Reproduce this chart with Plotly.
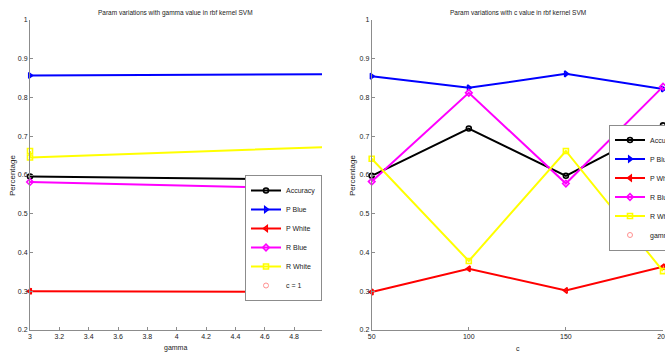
import plotly.graph_objects as go

# ---------------- data ----------------
series_names = ["Accuracy", "P Blue", "P White", "R Blue", "R White"]

# left panel: gamma variation (c = 1)
gamma_x = [3, 5]
gamma_acc = [0.596, 0.588]
gamma_pblue = [0.857, 0.860]
gamma_pwhite = [0.300, 0.298]
gamma_rblue = [0.582, 0.564]
gamma_rwhite_x = [3, 3, 5]
gamma_rwhite = [0.662, 0.645, 0.672]

# right panel: c variation
c_x = [50, 100, 150, 200]
c_acc = [0.598, 0.720, 0.598, 0.728]
c_pblue = [0.855, 0.825, 0.861, 0.822]
c_pwhite = [0.298, 0.358, 0.302, 0.363]
c_rblue = [0.583, 0.812, 0.578, 0.828]
c_rwhite = [0.642, 0.378, 0.662, 0.352]

y_ticks = [0.2, 0.3, 0.4, 0.5, 0.6, 0.7, 0.8, 0.9, 1.0]
y_ticklabels = ["0.2", "0.3", "0.4", "0.5", "0.6", "0.7", "0.8", "0.9", "1"]
gamma_ticks = [3, 3.2, 3.4, 3.6, 3.8, 4, 4.2, 4.4, 4.6, 4.8]
gamma_ticklabels = ["3", "3.2", "3.4", "3.6", "3.8", "4", "4.2", "4.4", "4.6", "4.8"]
c_ticks = [50, 100, 150, 200]

# ---------------- style ----------------
FONT = "Liberation Sans, Arial, sans-serif"
TXT = "#222222"
colors = ["#000000", "#0000ff", "#ff0000", "#ff00ff", "#ffff00"]
symbols = ["circle-open", "triangle-right-open", "triangle-left-open", "diamond-open", "square-open"]

W, H = 665, 353
T, B = 20, 23
PH = H - T - B


def px(x):
    return x / W


def py(y):
    return (H - B - y) / PH


fig = go.Figure()

left_sets = [
    (gamma_x, gamma_acc),
    (gamma_x, gamma_pblue),
    (gamma_x, gamma_pwhite),
    (gamma_x, gamma_rblue),
    (gamma_rwhite_x, gamma_rwhite),
]
right_sets = [
    (c_x, c_acc),
    (c_x, c_pblue),
    (c_x, c_pwhite),
    (c_x, c_rblue),
    (c_x, c_rwhite),
]


def marker(i):
    return dict(symbol=symbols[i], size=5, color=colors[i], line=dict(width=1.6, color=colors[i]))


for i, (xs, ys) in enumerate(left_sets):
    fig.add_trace(go.Scatter(
        x=xs, y=ys, name=series_names[i], mode="lines+markers",
        line=dict(color=colors[i], width=2), marker=marker(i),
        cliponaxis=False, xaxis="x", yaxis="y", legend="legend",
    ))
fig.add_trace(go.Scatter(
    x=[None], y=[None], name="c = 1", mode="markers",
    marker=dict(symbol="circle-open", size=5, color="#ff9090", line=dict(width=1, color="#ff9090")),
    xaxis="x", yaxis="y", legend="legend",
))

for i, (xs, ys) in enumerate(right_sets):
    fig.add_trace(go.Scatter(
        x=xs, y=ys, name=series_names[i], mode="lines+markers",
        line=dict(color=colors[i], width=2), marker=marker(i),
        cliponaxis=False, xaxis="x2", yaxis="y2", legend="legend2",
    ))
fig.add_trace(go.Scatter(
    x=[None], y=[None], name="gamma = 0.1", mode="markers",
    marker=dict(symbol="circle-open", size=5, color="#ff9090", line=dict(width=1, color="#ff9090")),
    xaxis="x2", yaxis="y2", legend="legend2",
))

axis_common = dict(
    showline=True, linecolor="#8c8c8c", linewidth=1,
    ticks="inside", ticklen=3, tickcolor="#8c8c8c",
    showgrid=False, zeroline=False, mirror=False,
    ticklabeloverflow="allow",
    tickfont=dict(family=FONT, size=7, color=TXT),
)

legend_common = dict(
    bgcolor="white", bordercolor="#8c8c8c", borderwidth=1,
    font=dict(family=FONT, size=7, color=TXT), itemwidth=30,
    tracegroupgap=0,
)

fig.update_layout(
    width=W, height=H,
    margin=dict(l=0, r=0, t=T, b=B, autoexpand=False),
    paper_bgcolor="white", plot_bgcolor="white",
    font=dict(family=FONT, size=7, color=TXT),
    xaxis=dict(domain=[px(30), px(322)], range=[3, 4.99], tickvals=gamma_ticks,
               ticktext=gamma_ticklabels, anchor="y", **axis_common),
    yaxis=dict(domain=[0, 1], range=[0.2, 1.0], tickvals=y_ticks, ticktext=y_ticklabels,
               anchor="x", **axis_common),
    xaxis2=dict(domain=[px(371.7), px(663)], range=[50, 200], tickvals=c_ticks,
                anchor="y2", **axis_common),
    yaxis2=dict(domain=[0, 1], range=[0.2, 1.0], tickvals=y_ticks, ticktext=y_ticklabels,
                anchor="x2", **axis_common),
    legend=dict(x=px(322), xanchor="right", y=py(238), yanchor="middle", **legend_common),
    legend2=dict(x=px(609), xanchor="left", y=py(187.5), yanchor="middle", **legend_common),
    showlegend=True,
)

ann = [
    dict(text="Param variations with gamma value in rbf kernel SVM", x=px(176), y=py(12.5), size=6.5),
    dict(text="Param variations with c value in rbf kernel SVM", x=px(517.5), y=py(12.5), size=6.5),
    dict(text="gamma", x=px(176), y=py(348.5), size=7),
    dict(text="c", x=px(517.5), y=py(348.5), size=7),
    dict(text="Percentage", x=px(13), y=py(176), textangle=-90, size=8),
    dict(text="Percentage", x=px(353), y=py(176), textangle=-90, size=8),
]
for a in ann:
    size = a.pop("size")
    fig.add_annotation(xref="paper", yref="paper", showarrow=False,
                       xanchor="center", yanchor="middle",
                       font=dict(family=FONT, size=size, color=TXT), **a)

fig.write_html("out.html")
